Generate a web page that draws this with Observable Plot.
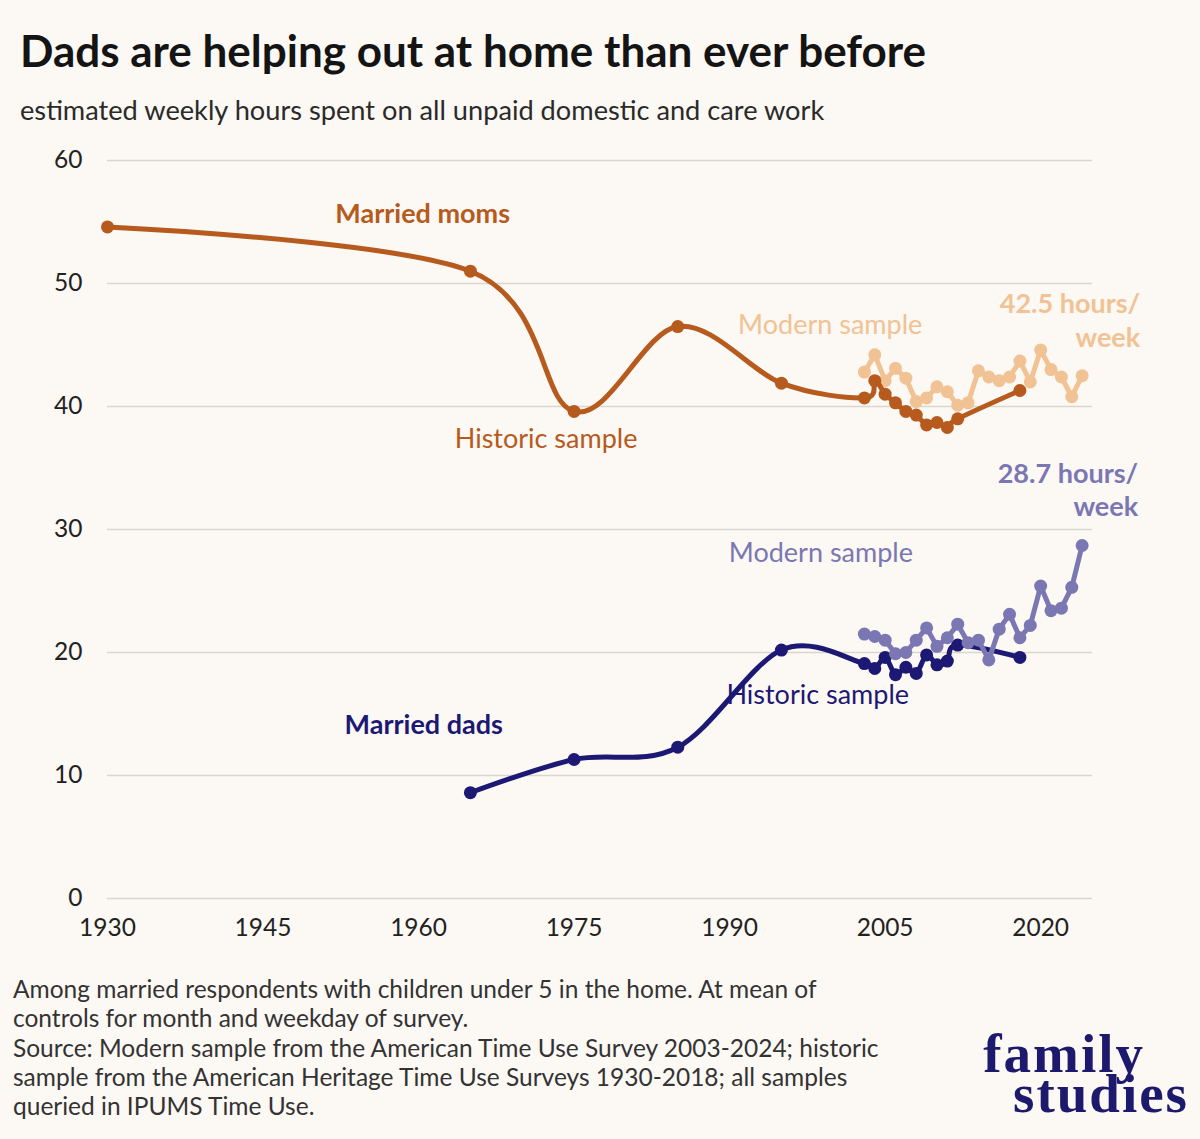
<!DOCTYPE html>
<html>
<head>
<meta charset="utf-8">
<script src="https://cdn.jsdelivr.net/npm/d3@7"></script>
<script src="https://cdn.jsdelivr.net/npm/@observablehq/plot@0.6"></script>
<style>
  html, body { margin: 0; padding: 0; background: #fcf8f3; }
  #wrap { position: relative; width: 1200px; height: 1139px; background: #fcf8f3; overflow: hidden; font-family: Lato, "Noto Sans", sans-serif; }
  #title { position: absolute; left: 20px; top: 24px; font-size: 44px; font-weight: 700; color: #141414; line-height: 1.2; white-space: nowrap; }
  #subtitle { position: absolute; left: 20px; top: 94px; font-size: 27.2px; color: #2a2a2a; line-height: 1.2; white-space: nowrap; }
  #chart { position: absolute; left: 0; top: 140px; }
  #caption { position: absolute; left: 13px; top: 974px; font-size: 24.5px; line-height: 29.3px; color: #333; white-space: nowrap; }
  #logo { position: absolute; right: 11px; top: 1034px; text-align: right; font-family: "Liberation Serif", "DejaVu Serif", serif; font-weight: 700; font-size: 55px; line-height: 40px; color: #1d1a6e; white-space: nowrap; letter-spacing: 2px; }
  #logo span { display: inline-block; margin-right: 44px; }
</style>
</head>
<body>
<div id="wrap">
  <div id="title">Dads are helping out at home than ever before</div>
  <div id="subtitle">estimated weekly hours spent on all unpaid domestic and care work</div>
  <div id="chart"></div>
  <div id="caption">Among married respondents with children under 5 in the home. At mean of<br>controls for month and weekday of survey.<br>Source: Modern sample from the American Time Use Survey 2003-2024; historic<br>sample from the American Heritage Time Use Surveys 1930-2018; all samples<br>queried in IPUMS Time Use.</div>
  <div id="logo"><span>family</span><br>studies</div>
</div>
<script>
// ---- data ----
const xTicks = [1930, 1945, 1960, 1975, 1990, 2005, 2020];
const yTicks = [0, 10, 20, 30, 40, 50, 60];

const modernYears = [2003, 2004, 2005, 2006, 2007, 2008, 2009, 2010, 2011, 2012, 2013,
                     2014, 2015, 2016, 2017, 2018, 2019, 2020, 2021, 2022, 2023, 2024];
const momsModernHours = [42.8, 44.2, 42.1, 43.1, 42.3, 40.4, 40.7, 41.6, 41.2, 40.1, 40.3,
                         42.9, 42.4, 42.1, 42.4, 43.7, 42.0, 44.6, 43.0, 42.4, 40.8, 42.5];
const dadsModernHours = [21.5, 21.3, 21.0, 19.9, 20.0, 21.0, 22.0, 20.5, 21.2, 22.3, 20.8,
                         21.0, 19.4, 21.9, 23.1, 21.2, 22.2, 25.4, 23.4, 23.6, 25.3, 28.7];

const momsHistoricYears = [1930, 1965, 1975, 1985, 1995, 2003, 2004, 2005, 2006, 2007, 2008, 2009, 2010, 2011, 2012, 2018];
const momsHistoricHours = [54.6, 51.0, 39.6, 46.5, 41.9, 40.7, 42.1, 41.0, 40.3, 39.6, 39.3, 38.5, 38.7, 38.3, 39.0, 41.3];

const dadsHistoricYears = [1965, 1975, 1985, 1995, 2003, 2004, 2005, 2006, 2007, 2008, 2009, 2010, 2011, 2012, 2018];
const dadsHistoricHours = [8.6, 11.3, 12.3, 20.2, 19.1, 18.7, 19.6, 18.2, 18.8, 18.3, 19.8, 19.0, 19.3, 20.6, 19.6];

// annotation labels (placed in data units: year, hours)
const momsLabels = [
  { text: "Married moms", year: 1960.4, hours: 55.6, bold: true },
  { text: "Historic sample", year: 1972.3, hours: 37.3, bold: false }
];
const momsModernLabels = [
  { text: "Modern sample", year: 1999.7, hours: 46.6, bold: false }
];
const momsEndLabel = [{ text: "42.5 hours/\nweek", year: 2029.6, hours: 47.1 }];

const dadsLabels = [
  { text: "Married dads", year: 1960.5, hours: 14.1, bold: true },
  { text: "Historic sample", year: 1998.5, hours: 16.5, bold: false }
];
const dadsModernLabels = [
  { text: "Modern sample", year: 1998.8, hours: 28.1, bold: false }
];
const dadsEndLabel = [{ text: "28.7 hours/\nweek", year: 2029.4, hours: 33.3 }];

// ---- tables ----
const toRows = (years, hours) => years.map((year, i) => ({ year, hours: hours[i] }));
const momsModern = toRows(modernYears, momsModernHours);
const dadsModern = toRows(modernYears, dadsModernHours);
const momsHistoric = toRows(momsHistoricYears, momsHistoricHours);
const dadsHistoric = toRows(dadsHistoricYears, dadsHistoricHours);

// ---- colours ----
const C = {
  momsHist: "#b65a1e",
  momsMod: "#f1c294",
  dadsHist: "#1c1974",
  dadsMod: "#7a77b3"
};

const series = (data, color, curve) => [
  Plot.line(data, { x: "year", y: "hours", stroke: color, strokeWidth: 5, curve }),
  Plot.dot(data, { x: "year", y: "hours", fill: color, r: 6.5 })
];

const FS = 27;
const labelMark = (data, color, bold) => Plot.text(data.filter(d => d.bold === bold), {
  x: "year", y: "hours", text: "text", fill: color, fontSize: FS,
  fontWeight: bold ? 700 : 400, textAnchor: "middle"
});

const chart = Plot.plot({
  width: 1200,
  height: 820,
  marginTop: 20,
  marginBottom: 62,
  marginLeft: 107,
  marginRight: 108,
  style: { background: "transparent", fontFamily: "Lato, 'Noto Sans', sans-serif", fontSize: "24.5px", color: "#222", overflow: "visible" },
  x: { domain: [1930, 2025], label: null },
  y: { domain: [0, 60], label: null },
  marks: [
    Plot.gridY(yTicks, { stroke: "#d9d5cf", strokeOpacity: 1, strokeWidth: 1.6 }),
    Plot.axisX({ ticks: xTicks, tickSize: 0, tickPadding: 20, tickFormat: d => String(d), label: null, fontSize: 24.5, fill: "#222" }),
    Plot.axisY({ ticks: yTicks, tickSize: 0, tickPadding: 25, label: null, fontSize: 24.5, fill: "#222" }),
    ...series(momsModern, C.momsMod, "linear"),
    ...series(momsHistoric, C.momsHist, "cardinal"),
    ...series(dadsHistoric, C.dadsHist, "cardinal"),
    ...series(dadsModern, C.dadsMod, "linear"),
    labelMark(momsLabels, C.momsHist, true),
    labelMark(momsLabels, C.momsHist, false),
    labelMark(momsModernLabels, C.momsMod, false),
    labelMark(dadsLabels, C.dadsHist, true),
    labelMark(dadsLabels, C.dadsHist, false),
    labelMark(dadsModernLabels, C.dadsMod, false),
    Plot.text(momsEndLabel, { x: "year", y: "hours", text: "text", fill: C.momsMod, fontSize: FS, fontWeight: 700, textAnchor: "end", lineHeight: 1.24 }),
    Plot.text(dadsEndLabel, { x: "year", y: "hours", text: "text", fill: C.dadsMod, fontSize: FS, fontWeight: 700, textAnchor: "end", lineHeight: 1.24 })
  ]
});
document.getElementById("chart").appendChild(chart);
</script>
</body>
</html>
